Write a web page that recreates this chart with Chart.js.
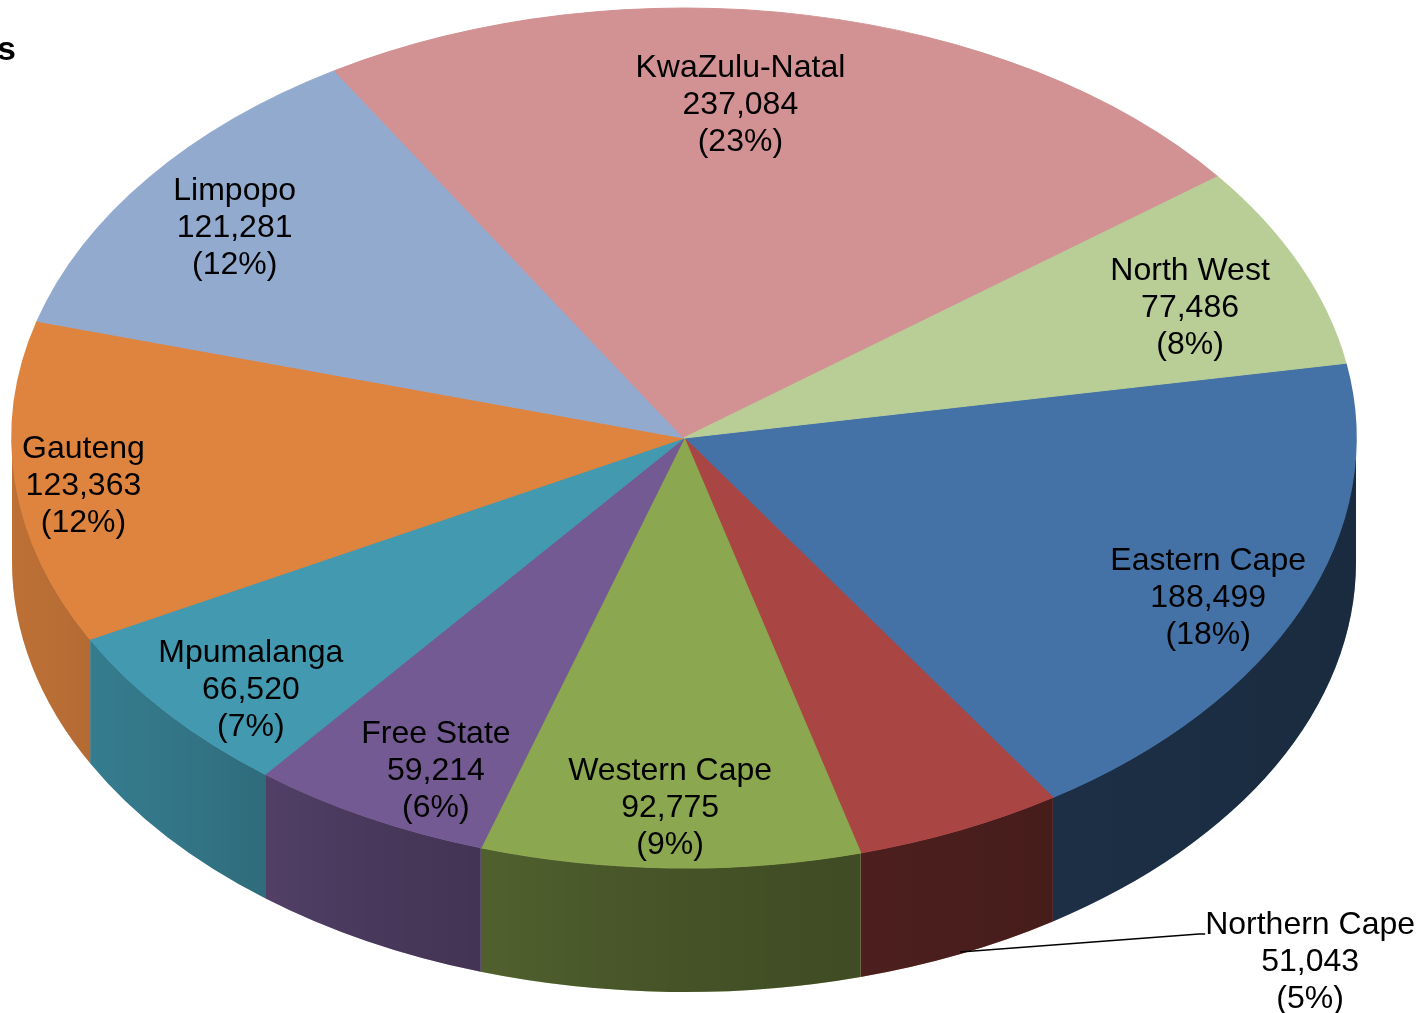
<!DOCTYPE html>
<html>
<head>
<meta charset="utf-8">
<title>Provinces</title>
<script src="https://cdn.jsdelivr.net/npm/chart.js@4.4.1/dist/chart.umd.min.js"></script>
<style>
  body { margin: 0; background: #fff; }
  canvas { display: block; }
</style>
</head>
<body>
<canvas id="pieChart" width="1425" height="1013"></canvas>
<script>
// data
var provinces = ['Eastern Cape', 'Northern Cape', 'Western Cape', 'Free State', 'Mpumalanga', 'Gauteng', 'Limpopo', 'KwaZulu-Natal', 'North West'];
var counts = [188499, 51043, 92775, 59214, 66520, 123363, 121281, 237084, 77486];
var percentLabels = ['(18%)', '(5%)', '(9%)', '(6%)', '(7%)', '(12%)', '(12%)', '(23%)', '(8%)'];

var topColors = ['#4471A6', '#A94543', '#8BA74F', '#745A92', '#4299B0', '#DE843F', '#93AACF', '#D29193', '#B9CE97'];

// look of the tilted pie
var RX = 672, RY = 430, DEPTH = 124;
var FONT = '32px "Liberation Sans", Arial, sans-serif';
var LINE_H = 37;
var TEXT_DY = 3;
// label placement: fraction of radius and angle nudge (deg); null = callout outside
var labelFrac = [0.861, null, 0.853, 0.852, 0.867, 0.900, 0.832, 0.786, 0.814];
var labelNudge = [1.7, 0, 0.2, -2.4, -2.3, -0.7, -0.7, -4.5, 1.4];

function fmt(v) {
    return v.toString().replace(/\B(?=(\d{3})+(?!\d))/g, ',');
}

function pieGeom(chart) {
    var arc = chart.getDatasetMeta(0).data[0];
    return { cx: arc.x, cy: arc.y, r: arc.outerRadius, sx: RX / arc.outerRadius, sy: RY / arc.outerRadius };
}

var tiltPlugin = {
    id: 'tilt',
    beforeDatasetsDraw: function (chart) {
        var ctx = chart.ctx;
        var g = pieGeom(chart);
        ctx.save();
        ctx.translate(g.cx, g.cy);
        ctx.scale(g.sx, g.sy);
        ctx.translate(-g.cx, -g.cy);

        var d = DEPTH / g.sy;
        // darker to the right, like the Excel lighting
        var shade = ctx.createLinearGradient(g.cx - g.r, 0, g.cx + g.r, 0);
        shade.addColorStop(0, 'rgba(0,0,0,0.15)');
        shade.addColorStop(0.13, 'rgba(0,0,0,0.24)');
        shade.addColorStop(0.27, 'rgba(0,0,0,0.38)');
        shade.addColorStop(0.49, 'rgba(0,0,0,0.50)');
        shade.addColorStop(0.70, 'rgba(0,0,0,0.57)');
        shade.addColorStop(1, 'rgba(0,0,0,0.62)');

        chart.getDatasetMeta(0).data.forEach(function (arc, i) {
            [-2 * Math.PI, 0, 2 * Math.PI].forEach(function (k) {
                var a1 = Math.max(arc.startAngle + k, 0);
                var a2 = Math.min(arc.endAngle + k, Math.PI);
                if (a2 <= a1) return;
                ctx.beginPath();
                ctx.arc(g.cx, g.cy, g.r, a1, a2);
                ctx.arc(g.cx, g.cy + d, g.r, a2, a1, true);
                ctx.closePath();
                ctx.fillStyle = topColors[i];
                ctx.fill();
                ctx.fillStyle = shade;
                ctx.fill();
            });
        });
    },
    afterDatasetsDraw: function (chart) {
        var ctx = chart.ctx;
        ctx.restore();
        var g = pieGeom(chart);

        ctx.save();
        ctx.font = FONT;
        ctx.fillStyle = '#000';
        ctx.textAlign = 'center';
        ctx.textBaseline = 'middle';
        chart.getDatasetMeta(0).data.forEach(function (arc, i) {
            var lines = [provinces[i], fmt(counts[i]), percentLabels[i]];
            var mid = (arc.startAngle + arc.endAngle) / 2;
            var x, y;
            if (labelFrac[i] !== null) {
                var m = mid + labelNudge[i] * Math.PI / 180;
                x = g.cx + RX * labelFrac[i] * Math.cos(m);
                y = g.cy + RY * labelFrac[i] * Math.sin(m);
            } else {
                // callout with leader line from the side wall
                var px = g.cx + RX * Math.cos(mid);
                var py = g.cy + RY * Math.sin(mid) + DEPTH - 2;
                x = px + 350;
                y = py + 7;
                var w = ctx.measureText(lines[0]).width;
                ctx.beginPath();
                ctx.moveTo(px, py);
                ctx.lineTo(x - w / 2 - 6, y - LINE_H + 12);
                ctx.lineTo(x - w / 2, y - LINE_H + 12);
                ctx.strokeStyle = '#000';
                ctx.lineWidth = 1.5;
                ctx.stroke();
            }
            lines.forEach(function (t, j) {
                ctx.fillText(t, x, y + TEXT_DY + (j - 1) * LINE_H);
            });
        });
        ctx.restore();
    },
    afterDraw: function (chart) {
        // title is cut off at the left edge of the picture
        var ctx = chart.ctx;
        ctx.save();
        ctx.font = 'bold 34px "Liberation Sans", Arial, sans-serif';
        ctx.fillStyle = '#000';
        ctx.textAlign = 'right';
        ctx.textBaseline = 'alphabetic';
        ctx.fillText('s', 16, 60);
        ctx.restore();
    }
};

document.addEventListener('DOMContentLoaded', function () {
    var ctx = document.getElementById('pieChart').getContext('2d');

    var pieChart = new Chart(ctx, {
        type: 'pie',
        data: {
            labels: provinces,
            datasets: [{
                data: counts,
                backgroundColor: topColors,
                borderColor: topColors,
                borderWidth: 1,
                clip: false
            }]
        },
        options: {
            responsive: false,
            animation: false,
            events: [],
            rotation: 80,
            layout: {
                padding: { left: 0, top: 0, right: 57, bottom: 137 }
            },
            plugins: {
                legend: { display: false },
                tooltip: { enabled: false },
                title: { display: false }
            }
        },
        plugins: [tiltPlugin]
    });
});
</script>
</body>
</html>
